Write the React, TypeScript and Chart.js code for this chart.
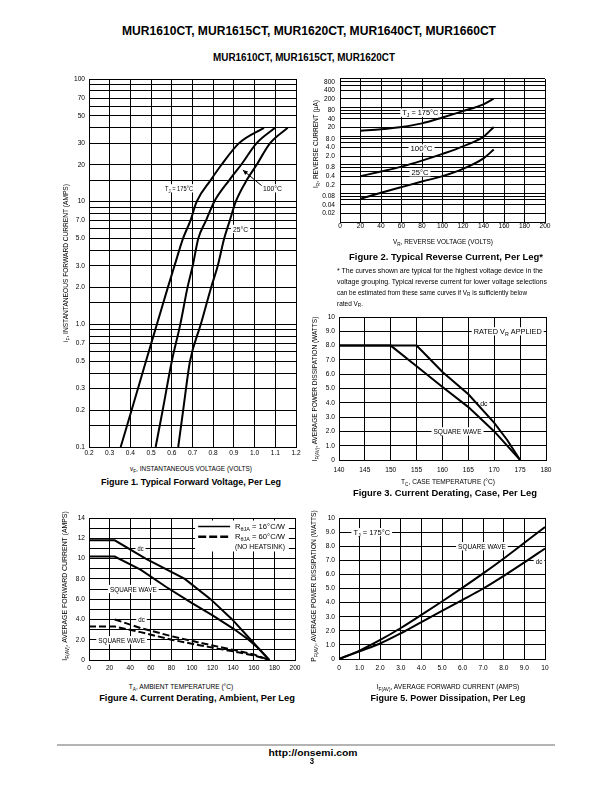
import React, { useEffect, useRef } from 'react';
import { Chart, registerables } from 'chart.js';

Chart.register(...registerables);

// ================= DATA =================
// Figure 1 — forward voltage (V) vs forward current (A)
const fig1XTicks = ['0.2', '0.3', '0.4', '0.5', '0.6', '0.7', '0.8', '0.9', '1.0', '1.1', '1.2'];
const fig1YTicks = ['0.1', '0.2', '0.3', '0.5', '0.7', '1.0', '2.0', '3.0', '5.0', '7.0', '10', '20', '30', '50', '70', '100'];
const fig1YGridMantissas = [1, 1.5, 2, 3, 4, 5, 6, 7, 8, 9];
const fig1Current = [0.1, 0.2, 0.5, 1, 2, 3, 5, 7, 10, 15, 20, 30, 40];
const fig1V175 = [0.353, 0.406, 0.475, 0.528, 0.581, 0.613, 0.654, 0.69, 0.72, 0.788, 0.84, 0.925, 1.045];
const fig1V100 = [0.522, 0.556, 0.6, 0.641, 0.676, 0.701, 0.728, 0.765, 0.805, 0.878, 0.935, 1.01, 1.099];
const fig1V25 = [0.631, 0.655, 0.688, 0.74, 0.79, 0.822, 0.853, 0.88, 0.909, 0.962, 1.01, 1.075, 1.16];

// Figure 2 — reverse voltage (V) vs reverse current (uA)
const fig2XTicks = ['0', '20', '40', '60', '80', '100', '120', '140', '160', '180', '200'];
const fig2YTicks = ['0.02', '0.04', '0.08', '0.2', '0.4', '0.8', '2.0', '4.0', '8.0', '20', '40', '80', '200', '400', '800'];
const fig2YGridMantissas = [1, 2, 4, 6, 8];
const fig2Voltage = [20, 40, 60, 80, 100, 120, 140, 150];
const fig2I175 = [15.5, 17.5, 21, 28, 45, 75, 130, 204];
const fig2I100 = [0.4, 0.58, 0.86, 1.4, 2.4, 4.4, 9.6, 21];
const fig2I25 = [0.065, 0.105, 0.166, 0.26, 0.4, 0.72, 1.68, 3.4];

// Figure 3 — case temperature vs average current
const fig3XTicks = ['140', '145', '150', '155', '160', '165', '170', '175', '180'];
const fig3YTicks = ['0', '1.0', '2.0', '3.0', '4.0', '5.0', '6.0', '7.0', '8.0', '9.0', '10'];
const fig3TempDc = [140, 155, 160, 165, 170, 172.5, 175];
const fig3PowerDc = [8, 8, 6.15, 4.6, 2.6, 1.4, 0];
const fig3TempSquare = [140, 150, 155, 160, 165, 170, 175];
const fig3PowerSquare = [8, 8, 6.55, 5.1, 3.7, 2.0, 0];

// Figure 4 — ambient temperature vs average forward current
const fig4XTicks = ['0', '20', '40', '60', '80', '100', '120', '140', '160', '180', '200'];
const fig4YTicks = ['0', '2.0', '4.0', '6.0', '8.0', '10', '12', '14'];
const fig4TempDc16 = [0, 25, 55, 93, 118, 139, 157, 175];
const fig4CurDc16 = [11.8, 11.8, 10, 8, 6, 4, 2, 0];
const fig4TempSq16 = [0, 25, 50, 75, 100, 120, 140, 155, 165, 175];
const fig4CurSq16 = [10.2, 10.2, 8.9, 7.2, 5.6, 4.4, 3.1, 2.0, 1.1, 0];
const fig4TempDc60 = [25, 50, 80, 110, 140, 160, 175];
const fig4CurDc60 = [4.0, 3.15, 2.35, 1.65, 1.0, 0.55, 0];
const fig4TempSq60 = [0, 25, 50, 80, 110, 140, 160, 175];
const fig4CurSq60 = [3.3, 3.3, 2.75, 2.0, 1.4, 0.85, 0.45, 0];

// Figure 5 — average forward current vs power dissipation
const fig5XTicks = ['0', '1.0', '2.0', '3.0', '4.0', '5.0', '6.0', '7.0', '8.0', '9.0', '10'];
const fig5YTicks = ['0', '1.0', '2.0', '3.0', '4.0', '5.0', '6.0', '7.0', '8.0', '9.0', '10'];
const fig5Current = [0, 1, 2, 3, 4, 5, 6, 7, 8, 9, 10];
const fig5PowerSquare = [0, 0.6, 1.35, 2.2, 3.13, 4.08, 5.06, 6.07, 7.13, 8.24, 9.36];
const fig5PowerDc = [0, 0.55, 1.1, 1.82, 2.62, 3.42, 4.2, 5.0, 5.9, 6.85, 7.84];

// ================= helpers =================
type Part = string | { t: string; sub: true };
const FAMILY = "'Liberation Sans', Arial, Helvetica, sans-serif";
const SUB = 0.72;
const mctx = document.createElement('canvas').getContext('2d') as CanvasRenderingContext2D;
const NARROW = (() => {
  const s = 'abcdefghijklmnopqrstuvwxyz0123456789';
  mctx.font = '20px monospace';
  const a = mctx.measureText(s).width;
  mctx.font = "20px 'Liberation Sans Narrow', monospace";
  const b = mctx.measureText(s).width;
  return Math.abs(a - b) > 1;
})();
const TICK_FAMILY = NARROW ? "'Liberation Sans Narrow', 'Liberation Sans', Arial, sans-serif" : FAMILY;
const TICK_SIZE = NARROW ? 7.5 : 6.6;

function partsWidth(parts: Part[], size: number, bold: boolean) {
  let w = 0;
  for (const p of parts) {
    const sub = typeof p !== 'string';
    const t = typeof p === 'string' ? p : p.t;
    mctx.font = `${bold ? 'bold ' : ''}${sub ? size * SUB : size}px ${FAMILY}`;
    w += mctx.measureText(t).width;
  }
  return w;
}

const clean = (v: number) => Number(v.toPrecision(10));
function logGrid(min: number, max: number, mant: number[]) {
  const out: number[] = [];
  for (let e = Math.floor(Math.log10(min)); e <= Math.ceil(Math.log10(max)); e++) {
    for (const m of mant) {
      const v = clean(m * Math.pow(10, e));
      if (v >= min * (1 - 1e-9) && v <= max * (1 + 1e-9)) out.push(v);
    }
  }
  return out;
}
function linGrid(min: number, max: number, step: number) {
  const out: number[] = [];
  const n = Math.round((max - min) / step);
  for (let i = 0; i <= n; i++) out.push(clean(min + i * step));
  return out;
}
const near = (a: number, b: number) => Math.abs(a - b) <= 1e-9 * Math.max(1, Math.abs(a));

function axisOptions(a: any, isX: boolean, size: number) {
  const labelVals = a.labels.map(Number);
  const all: number[] = [...a.grid];
  labelVals.forEach((v: number) => { if (!all.some((g) => near(g, v))) all.push(v); });
  all.sort((p, q) => p - q);
  return {
    type: a.type,
    min: a.min,
    max: a.max,
    afterBuildTicks: (s: any) => { s.ticks = all.map((v) => ({ value: v })); },
    afterFit: (s: any) => { if (isX) s.height = size; else s.width = size; },
    ticks: {
      autoSkip: false,
      maxRotation: 0,
      minRotation: 0,
      padding: a.pad,
      color: '#000',
      font: { family: TICK_FAMILY, size: TICK_SIZE },
      callback: (v: number) => {
        const i = labelVals.findIndex((l: number) => near(l, v));
        return i >= 0 ? a.labels[i] : '';
      },
    },
    grid: { color: '#000', lineWidth: 1, drawTicks: false },
    border: { color: '#000', width: 1 },
  };
}

function curve(xs: number[], ys: number[], extra: any = {}) {
  return {
    data: xs.map((x, i) => ({ x, y: ys[i] })),
    showLine: true,
    borderColor: '#000',
    borderWidth: 2,
    pointRadius: 0,
    pointHoverRadius: 0,
    fill: false,
    tension: 0,
    ...extra,
  };
}
const smooth = { cubicInterpolationMode: 'monotone' };

function drawParts(ctx: CanvasRenderingContext2D, parts: Part[], cx: number, cy: number, size: number, w: number | undefined, bg: boolean, align: string) {
  const nat = partsWidth(parts, size, false);
  const s = w ? w / nat : 0.82;
  const tw = nat * s;
  const x0 = align === 'left' ? cx : cx - tw / 2;
  if (bg) {
    ctx.fillStyle = '#fff';
    ctx.fillRect(x0 - 2, cy - size * 0.55, tw + 4, size * 1.1);
  }
  ctx.fillStyle = '#000';
  ctx.textBaseline = 'alphabetic';
  ctx.textAlign = 'left';
  const base = cy + size * 0.36;
  let x = x0;
  for (const p of parts) {
    const sub = typeof p !== 'string';
    const t = typeof p === 'string' ? p : p.t;
    const fs = sub ? size * SUB : size;
    ctx.font = `${fs}px ${FAMILY}`;
    const mw = ctx.measureText(t).width;
    ctx.save();
    ctx.translate(x, base + (sub ? size * 0.25 : 0));
    ctx.scale(s, 1);
    ctx.fillText(t, 0, 0);
    ctx.restore();
    x += mw * s;
  }
}

const annotPlugin = {
  id: 'annot',
  beforeDatasetsDraw(chart: any, _args: any, opts: any) {
    const ctx: CanvasRenderingContext2D = chart.ctx;
    const px = (v: number) => chart.scales.x.getPixelForValue(v);
    const py = (v: number) => chart.scales.y.getPixelForValue(v);
    ctx.save();
    for (const a of opts.items || []) {
      if (a.kind === 'box') {
        ctx.fillStyle = '#fff';
        const x1 = px(a.x1), x2 = px(a.x2), y1 = py(a.y1), y2 = py(a.y2);
        ctx.fillRect(Math.min(x1, x2), Math.min(y1, y2), Math.abs(x2 - x1), Math.abs(y2 - y1));
      } else if (a.kind === 'line') {
        const x1 = px(a.x1), x2 = px(a.x2), y1 = py(a.y1), y2 = py(a.y2);
        ctx.strokeStyle = '#000';
        ctx.lineWidth = a.width;
        ctx.setLineDash(a.dash || []);
        ctx.beginPath();
        ctx.moveTo(x1, y1);
        ctx.lineTo(x2, y2);
        ctx.stroke();
        ctx.setLineDash([]);
        if (a.arrow) {
          const ang = Math.atan2(y2 - y1, x2 - x1);
          const L = 5, W = 2.2;
          ctx.fillStyle = '#000';
          ctx.beginPath();
          ctx.moveTo(x2, y2);
          ctx.lineTo(x2 - L * Math.cos(ang) + W * Math.sin(ang), y2 - L * Math.sin(ang) - W * Math.cos(ang));
          ctx.lineTo(x2 - L * Math.cos(ang) - W * Math.sin(ang), y2 - L * Math.sin(ang) + W * Math.cos(ang));
          ctx.closePath();
          ctx.fill();
        }
      } else if (a.kind === 'text') {
        drawParts(ctx, a.parts, px(a.x), py(a.y), a.size || 7.5, a.w, a.bg !== false, a.align || 'center');
      }
    }
    ctx.restore();
  },
};

const ML = 34, MT = 8, MR = 14, MB = 16;

function PlotChart({ spec }: { spec: any }) {
  const ref = useRef<HTMLCanvasElement>(null);
  const [x0, y0, x1, y1] = spec.rect;
  const W = x1 - x0 + ML + MR;
  const H = y1 - y0 + MT + MB;
  useEffect(() => {
    const chart = new Chart(ref.current as HTMLCanvasElement, {
      type: 'scatter',
      data: { datasets: spec.datasets },
      options: {
        animation: false,
        responsive: false,
        maintainAspectRatio: false,
        events: [],
        layout: { padding: { left: 0, top: MT, right: MR, bottom: 0 } },
        plugins: { legend: { display: false }, tooltip: { enabled: false }, annot: { items: spec.annotations } },
        scales: { x: axisOptions(spec.x, true, MB), y: axisOptions(spec.y, false, ML) },
      } as any,
      plugins: [annotPlugin as any],
    });
    return () => chart.destroy();
  }, []);
  return (
    <canvas
      ref={ref}
      width={W}
      height={H}
      style={{ position: 'absolute', left: x0 - ML, top: y0 - MT, width: W, height: H }}
    />
  );
}

function Txt({ x, y, parts, size, bold = false, w, sx = 0.82, align = 'center', rot = false }: any) {
  const nat = partsWidth(parts, size, bold);
  const s = w ? w / nat : sx;
  const st: any = {
    position: 'absolute',
    left: x,
    top: y,
    whiteSpace: 'nowrap',
    fontFamily: FAMILY,
    fontSize: size,
    fontWeight: bold ? 700 : 400,
    lineHeight: `${size}px`,
    color: '#000',
  };
  if (align === 'center') {
    st.transform = `translate(-50%, -50%)${rot ? ' rotate(-90deg)' : ''} scaleX(${s})`;
    st.transformOrigin = '50% 50%';
  } else {
    st.transform = `translateY(-50%) scaleX(${s})`;
    st.transformOrigin = '0 50%';
  }
  return (
    <div style={st}>
      {parts.map((p: Part, i: number) =>
        typeof p === 'string' ? (
          <span key={i}>{p}</span>
        ) : (
          <span key={i} style={{ fontSize: size * SUB, position: 'relative', top: size * 0.25 }}>{p.t}</span>
        )
      )}
    </div>
  );
}

const sub = (t: string): Part => ({ t, sub: true });

// ================= figure specs =================
const specs = [
  {
    key: 'f1',
    rect: [89, 79, 296, 447],
    x: { type: 'linear', min: 0.2, max: 1.2, labels: fig1XTicks, grid: linGrid(0.2, 1.2, 0.1), pad: 2.5 },
    y: { type: 'logarithmic', min: 0.1, max: 100, labels: fig1YTicks, grid: logGrid(0.1, 100, fig1YGridMantissas), pad: 4 },
    datasets: [
      curve(fig1V175, fig1Current, smooth),
      curve(fig1V100, fig1Current, smooth),
      curve(fig1V25, fig1Current, smooth),
    ],
    annotations: [
      { kind: 'text', x: 0.635, y: 12.85, parts: ['T', sub('J'), ' = 175°C'], w: 28 },
      { kind: 'text', x: 1.086, y: 12.85, parts: ['100°C'], w: 19 },
      { kind: 'text', x: 0.932, y: 6.0, parts: ['25°C'], w: 15 },
      { kind: 'line', x1: 1.034, y1: 13.5, x2: 0.943, y2: 18.1, width: 1, arrow: true },
    ],
  },
  {
    key: 'f2',
    rect: [340, 78, 545, 222],
    x: { type: 'linear', min: 0, max: 200, labels: fig2XTicks, grid: linGrid(0, 200, 20), pad: 0.5 },
    y: { type: 'logarithmic', min: 0.01, max: 1000, labels: fig2YTicks, grid: logGrid(0.01, 1000, fig2YGridMantissas), pad: 5 },
    datasets: [
      curve(fig2Voltage, fig2I175, smooth),
      curve(fig2Voltage, fig2I100, smooth),
      curve(fig2Voltage, fig2I25, smooth),
    ],
    annotations: [
      { kind: 'text', x: 78.3, y: 66, parts: ['T', sub('J'), ' = 175°C'], w: 36 },
      { kind: 'text', x: 79.5, y: 3.7, parts: ['100°C'], w: 22 },
      { kind: 'text', x: 78, y: 0.545, parts: ['25°C'], w: 17 },
    ],
  },
  {
    key: 'f3',
    rect: [339, 317, 546, 460],
    x: { type: 'linear', min: 140, max: 180, labels: fig3XTicks, grid: linGrid(140, 180, 5), pad: 6 },
    y: { type: 'linear', min: 0, max: 10, labels: fig3YTicks, grid: linGrid(0, 10, 1), pad: 4 },
    datasets: [curve(fig3TempDc, fig3PowerDc), curve(fig3TempSquare, fig3PowerSquare)],
    annotations: [
      { kind: 'text', x: 172.6, y: 9, parts: ['RATED V', sub('R'), ' APPLIED'], w: 68 },
      { kind: 'text', x: 168, y: 4, parts: ['dc'], w: 7.3 },
      { kind: 'text', x: 162.9, y: 2, parts: ['SQUARE WAVE'], w: 48 },
    ],
  },
  {
    key: 'f4',
    rect: [89, 518, 295, 660],
    x: { type: 'linear', min: 0, max: 200, labels: fig4XTicks, grid: linGrid(0, 200, 20), pad: 4.5 },
    y: { type: 'linear', min: 0, max: 14, labels: fig4YTicks, grid: linGrid(0, 14, 1), pad: 4 },
    datasets: [
      curve(fig4TempDc16, fig4CurDc16),
      curve(fig4TempSq16, fig4CurSq16),
      curve(fig4TempDc60, fig4CurDc60, { borderDash: [7, 3] }),
      curve(fig4TempSq60, fig4CurSq60, { borderDash: [7, 3] }),
    ],
    annotations: [
      { kind: 'box', x1: 103, y1: 13.75, x2: 194, y2: 10.7 },
      { kind: 'line', x1: 106, y1: 13.15, x2: 137, y2: 13.15, width: 1.5 },
      { kind: 'text', x: 141.7, y: 13.15, parts: ['R', sub('θJA'), ' = 16°C/W'], w: 50, align: 'left', bg: false },
      { kind: 'line', x1: 106, y1: 12.16, x2: 137, y2: 12.16, width: 2.5, dash: [8, 3] },
      { kind: 'text', x: 141.7, y: 12.16, parts: ['R', sub('θJA'), ' = 60°C/W'], w: 50, align: 'left', bg: false },
      { kind: 'text', x: 141.7, y: 11.17, parts: ['(NO HEATSINK)'], w: 50, align: 'left', bg: false },
      { kind: 'text', x: 50, y: 11, parts: ['dc'], w: 6 },
      { kind: 'text', x: 43, y: 7, parts: ['SQUARE WAVE'], w: 46.7 },
      { kind: 'text', x: 51, y: 4, parts: ['dc'], w: 6.5 },
      { kind: 'text', x: 31.7, y: 1.95, parts: ['SQUARE WAVE'], w: 46.7 },
    ],
  },
  {
    key: 'f5',
    rect: [339, 518, 545, 659],
    x: { type: 'linear', min: 0, max: 10, labels: fig5XTicks, grid: linGrid(0, 10, 1), pad: 5.5 },
    y: { type: 'linear', min: 0, max: 10, labels: fig5YTicks, grid: linGrid(0, 10, 1), pad: 4 },
    datasets: [curve(fig5Current, fig5PowerSquare, smooth), curve(fig5Current, fig5PowerDc, smooth)],
    annotations: [
      { kind: 'text', x: 1.59, y: 9, parts: ['T', sub('J'), ' = 175°C'], w: 36.7 },
      { kind: 'text', x: 6.94, y: 8, parts: ['SQUARE WAVE'], w: 47.7 },
      { kind: 'text', x: 9.71, y: 6.95, parts: ['dc'], w: 6.7 },
    ],
  },
];

export default function App() {
  return (
    <div style={{ position: 'absolute', left: 0, top: 0, width: 612, height: 792, background: '#fff', overflow: 'hidden' }}>
      {specs.map((s) => (
        <PlotChart key={s.key} spec={s} />
      ))}

      {/* page header */}
      <Txt x={309} y={30.5} parts={['MUR1610CT, MUR1615CT, MUR1620CT, MUR1640CT, MUR1660CT']} size={12} bold w={374} />
      <Txt x={304} y={58.3} parts={['MUR1610CT, MUR1615CT, MUR1620CT']} size={10} bold w={182} />

      {/* Figure 1 */}
      <Txt x={65.5} y={263} rot parts={['i', sub('F'), ', INSTANTANEOUS FORWARD CURRENT (AMPS)']} size={8} w={158} />
      <Txt x={191} y={469.3} parts={['v', sub('F'), ', INSTANTANEOUS VOLTAGE (VOLTS)']} size={8} w={122} />
      <Txt x={190.7} y={481.7} parts={['Figure 1. Typical Forward Voltage, Per Leg']} size={9} bold w={180} />

      {/* Figure 2 */}
      <Txt x={316} y={144} rot parts={['I', sub('R'), ', REVERSE CURRENT (μA)']} size={8} w={88} />
      <Txt x={442.7} y={241.7} parts={['V', sub('R'), ', REVERSE VOLTAGE (VOLTS)']} size={8} w={100} />
      <Txt x={446.3} y={257} parts={['Figure 2. Typical Reverse Current, Per Leg*']} size={9} bold w={194} />
      <Txt x={337} y={270.5} align="left" parts={['* The curves shown are typical for the highest voltage device in the']} size={7.5} w={206} />
      <Txt x={337} y={281.5} align="left" parts={['voltage grouping. Typical reverse current for lower voltage selections']} size={7.5} w={210} />
      <Txt x={337} y={292.5} align="left" parts={['can be estimated from these same curves if V', sub('R'), ' is sufficiently below']} size={7.5} w={190} />
      <Txt x={337} y={303.5} align="left" parts={['rated V', sub('R'), '.']} size={7.5} w={26} />

      {/* Figure 3 */}
      <Txt x={315} y={388.5} rot parts={['I', sub('F(AV)'), ', AVERAGE POWER DISSIPATION (WATTS)']} size={8} w={145} />
      <Txt x={448} y={481.7} parts={['T', sub('C'), ', CASE TEMPERATURE (°C)']} size={8} w={94} />
      <Txt x={444.7} y={493.3} parts={['Figure 3. Current Derating, Case, Per Leg']} size={9} bold w={184} />

      {/* Figure 4 */}
      <Txt x={65} y={586} rot parts={['I', sub('F(AV)'), ', AVERAGE FORWARD CURRENT (AMPS)']} size={8} w={150} />
      <Txt x={180.8} y={686.7} parts={['T', sub('A'), ', AMBIENT TEMPERATURE (°C)']} size={8} w={105} />
      <Txt x={197} y={698.3} parts={['Figure 4. Current Derating, Ambient, Per Leg']} size={9} bold w={196} />

      {/* Figure 5 */}
      <Txt x={314} y={586} rot parts={['P', sub('F(AV)'), ', AVERAGE POWER DISSIPATION (WATTS)']} size={8} w={152} />
      <Txt x={448} y={686.7} parts={['I', sub('F(AV)'), ', AVERAGE FORWARD CURRENT (AMPS)']} size={8} w={143} />
      <Txt x={447.5} y={698.3} parts={['Figure 5. Power Dissipation, Per Leg']} size={9} bold w={155} />

      {/* footer */}
      <div style={{ position: 'absolute', left: 57, top: 744, width: 498, height: 2, background: '#b4b4b4' }} />
      <Txt x={312.5} y={753.3} parts={['http://onsemi.com']} size={9.5} bold w={89} />
      <Txt x={311.7} y={760.7} parts={['3']} size={9.5} bold />
    </div>
  );
}
